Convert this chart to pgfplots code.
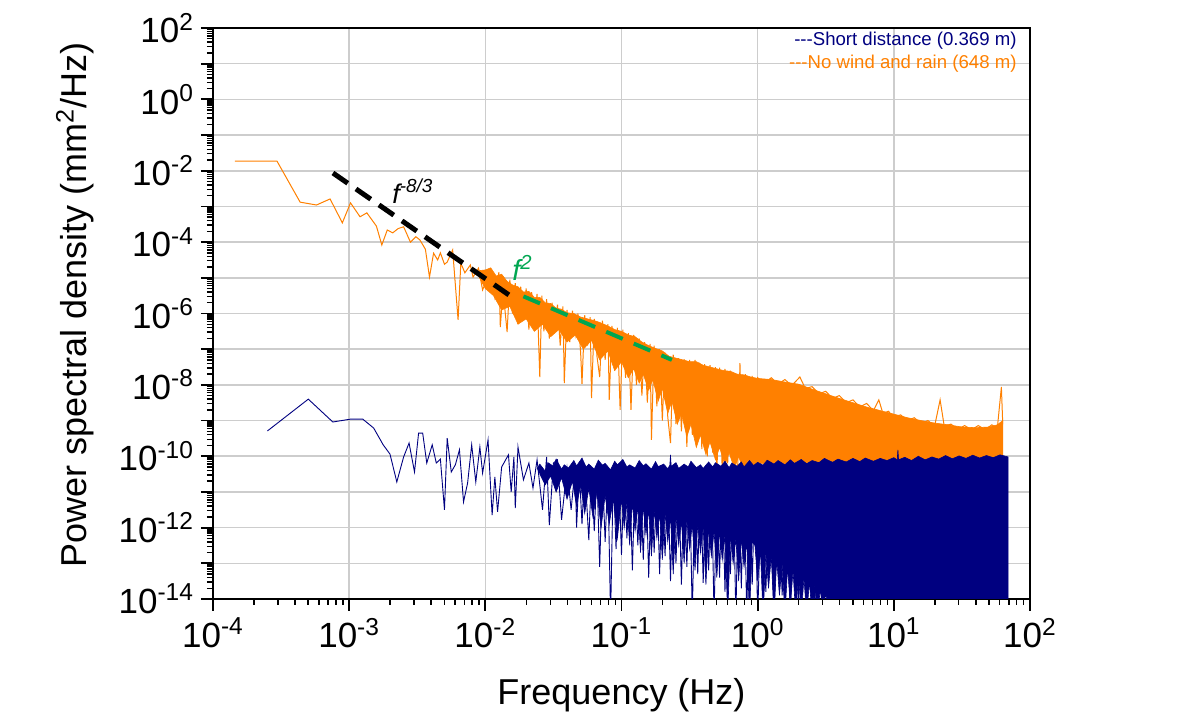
\documentclass[border=0pt]{standalone}
\usepackage{fontspec}
\setmainfont{Liberation Sans}
\usepackage{pgfplots}
\usepackage{pgfplotstable}
\pgfplotsset{compat=1.18}
\definecolor{orangec}{RGB}{255,128,0}
\definecolor{navyc}{RGB}{0,0,128}
\definecolor{greenc}{RGB}{0,166,81}
\definecolor{gridc}{RGB}{205,205,205}

% all values are log10(frequency) and log10(PSD)
\pgfplotstableread{
lx ly
-3.84 -1.73
-3.53 -1.73
-3.36 -2.88
-3.24 -2.96
-3.14 -2.79
-3.05 -3.46
-2.99 -2.90
-2.92 -3.29
-2.87 -3.18
-2.80 -3.55
-2.76 -4.08
-2.72 -3.66
-2.68 -3.74
-2.64 -3.62
-2.60 -3.57
-2.55 -4.00
-2.51 -3.85
-2.48 -3.94
-2.44 -4.20
-2.41 -4.98
-2.38 -4.31
-2.35 -4.50
-2.33 -4.30
-2.30 -4.62
-2.28 -4.56
-2.24 -4.22
-2.20 -6.18
-2.18 -4.59
-2.15 -4.86
-2.11 -4.64
-2.09 -4.98
-2.05 -4.73
-2.02 -5.34
-1.99 -5.06
-1.95 -4.86
-1.93 -5.53
-1.90 -4.84
-1.89 -6.38
-1.87 -5.34
-1.84 -6.52
-1.82 -5.05
-1.80 -6.00
-1.78 -5.15
-1.76 -6.30
-1.74 -5.25
-1.72 -6.10
-1.70 -5.30
-1.68 -6.45
-1.66 -5.40
-1.64 -6.20
-1.62 -5.45
-1.60 -7.78
-1.585 -5.50
-1.57 -6.50
-1.55 -5.60
-1.53 -6.70
-1.51 -5.70
-1.49 -6.40
-1.47 -5.75
-1.45 -6.90
-1.43 -5.80
-1.42 -7.95
-1.40 -5.90
-1.38 -6.80
-1.36 -5.92
-1.34 -6.60
-1.32 -6.00
-1.30 -7.10
-1.29 -7.97
-1.27 -6.05
-1.25 -6.90
-1.23 -6.10
-1.22 -8.37
-1.20 -6.15
-1.18 -7.20
-1.16 -7.78
-1.14 -6.20
-1.12 -7.30
-1.10 -6.30
-1.09 -8.42
-1.07 -6.35
-1.05 -7.60
-1.03 -6.40
-1.01 -8.70
-0.99 -6.45
-0.97 -7.80
-0.95 -6.55
-0.93 -8.70
-0.91 -6.60
-0.89 -8.00
-0.87 -6.70
-0.85 -8.30
-0.83 -6.80
-0.81 -8.50
-0.79 -6.85
-0.78 -9.54
-0.76 -6.90
-0.74 -8.60
-0.72 -7.00
-0.70 -9.00
-0.68 -7.10
-0.66 -8.90
-0.64 -9.63
-0.62 -7.15
-0.60 -9.10
-0.58 -7.25
-0.56 -9.30
-0.54 -7.28
-0.52 -9.74
-0.50 -7.30
-0.48 -9.40
-0.46 -7.30
-0.45 -9.74
-0.43 -7.38
-0.41 -9.80
-0.39 -7.42
-0.37 -10.00
-0.35 -7.45
-0.33 -9.90
-0.31 -7.50
-0.30 -10.58
-0.28 -7.52
-0.26 -10.47
-0.24 -7.55
-0.22 -10.20
-0.20 -7.60
-0.17 -10.30
-0.15 -10.86
-0.13 -7.39
-0.11 -10.30
-0.09 -7.70
-0.06 -10.30
-0.04 -7.75
-0.02 -10.30
0.00 -7.80
0.05 -7.95
0.10 -7.80
0.15 -7.98
0.20 -7.85
0.25 -8.02
0.31 -7.78
0.35 -8.10
0.40 -8.05
0.45 -8.25
0.50 -8.18
0.55 -8.38
0.60 -8.30
0.65 -8.50
0.70 -8.42
0.75 -8.62
0.80 -8.52
0.85 -8.72
0.89 -8.42
0.92 -8.80
0.96 -8.74
1.00 -8.90
1.05 -8.84
1.10 -9.00
1.15 -8.92
1.20 -9.08
1.25 -9.00
1.30 -9.15
1.34 -8.42
1.37 -9.15
1.42 -9.10
1.47 -9.25
1.52 -9.14
1.57 -9.26
1.62 -9.14
1.67 -9.25
1.72 -9.12
1.76 -9.22
1.79 -8.06
1.80 -9.10
}\OrangeLine

\pgfplotstableread{
lx ly
-2.05 -4.80
-2.00 -4.78
-1.96 -4.72
-1.92 -4.95
-1.88 -4.90
-1.84 -5.10
-1.80 -5.20
-1.76 -5.25
-1.72 -5.40
-1.68 -5.38
-1.64 -5.55
-1.60 -5.55
-1.56 -5.70
-1.52 -5.72
-1.48 -5.85
-1.44 -5.88
-1.40 -5.98
-1.35 -6.00
-1.30 -6.10
-1.25 -6.15
-1.20 -6.20
-1.16 -6.25
-1.10 -6.35
-1.05 -6.45
-1.00 -6.50
-0.95 -6.60
-0.90 -6.65
-0.85 -6.80
-0.80 -6.90
-0.75 -6.98
-0.70 -7.05
-0.65 -7.20
-0.60 -7.25
-0.55 -7.30
-0.50 -7.35
-0.45 -7.35
-0.40 -7.45
-0.35 -7.50
-0.30 -7.55
-0.25 -7.60
-0.20 -7.62
-0.15 -7.70
-0.10 -7.72
-0.05 -7.78
0.00 -7.82
0.10 -7.85
0.20 -7.92
0.30 -7.98
0.40 -8.12
0.50 -8.25
0.60 -8.38
0.70 -8.50
0.80 -8.62
0.90 -8.72
1.00 -8.82
1.10 -8.92
1.20 -9.00
1.30 -9.07
1.40 -9.12
1.50 -9.18
1.60 -9.20
1.70 -9.18
1.76 -9.12
1.80 -9.00
1.80 -10.40
1.00 -10.40
0.50 -10.35
0.20 -10.25
0.00 -10.19
-0.03 -10.40
-0.07 -10.10
-0.10 -10.45
-0.14 -10.00
-0.17 -10.35
-0.21 -9.90
-0.24 -10.25
-0.28 -9.75
-0.31 -10.10
-0.35 -9.60
-0.38 -9.95
-0.42 -9.40
-0.45 -9.75
-0.49 -9.10
-0.52 -9.45
-0.56 -8.80
-0.59 -9.10
-0.63 -8.45
-0.66 -8.80
-0.70 -8.10
-0.73 -8.45
-0.77 -7.85
-0.80 -8.15
-0.84 -7.70
-0.87 -7.95
-0.91 -7.55
-0.95 -7.80
-1.00 -7.35
-1.05 -7.60
-1.10 -7.05
-1.16 -7.30
-1.22 -6.75
-1.28 -7.00
-1.34 -6.60
-1.40 -6.80
-1.46 -6.45
-1.52 -6.65
-1.58 -6.30
-1.64 -6.50
-1.70 -6.15
-1.76 -6.30
-1.82 -5.80
-1.88 -5.90
-1.94 -5.50
-2.00 -5.30
-2.05 -4.95
}\OrangeBand

\pgfplotstableread{
lx ly
-3.60 -9.29
-3.30 -8.40
-3.12 -9.04
-2.99 -8.96
-2.90 -8.96
-2.82 -9.21
-2.75 -9.68
-2.70 -9.94
-2.65 -10.72
-2.60 -10.02
-2.56 -9.63
-2.52 -10.44
-2.49 -9.35
-2.46 -9.35
-2.43 -10.19
-2.39 -9.68
-2.36 -10.19
-2.33 -10.08
-2.30 -11.50
-2.28 -9.49
-2.25 -10.44
-2.22 -10.24
-2.19 -9.82
-2.16 -11.28
-2.13 -10.75
-2.10 -9.68
-2.07 -10.72
-2.04 -9.74
-2.02 -10.47
-1.98 -9.54
-1.95 -11.65
-1.93 -10.58
-1.91 -11.56
-1.88 -10.30
-1.83 -9.96
-1.81 -11.00
-1.79 -10.02
-1.78 -11.45
-1.76 -9.74
-1.72 -10.66
-1.68 -10.19
-1.65 -10.89
-1.62 -10.10
-1.58 -11.50
-1.55 -10.02
-1.53 -11.93
-1.50 -10.19
-1.47 -10.10
-1.44 -11.78
-1.40 -10.33
-1.37 -11.50
-1.34 -10.30
-1.33 -12.00
-1.31 -10.40
-1.29 -11.90
-1.27 -10.30
-1.24 -12.35
-1.22 -10.40
-1.20 -12.10
-1.18 -10.50
-1.16 -13.10
-1.14 -10.40
-1.12 -12.40
-1.10 -10.50
-1.08 -14.50
-1.06 -10.40
-1.04 -12.60
-1.02 -10.50
-1.00 -12.76
-0.98 -10.40
-0.96 -12.30
-0.94 -10.50
-0.92 -13.20
-0.90 -10.50
-0.88 -12.50
-0.86 -10.60
-0.84 -12.90
-0.82 -10.50
-0.80 -13.40
-0.78 -10.60
-0.76 -12.70
-0.74 -10.50
-0.72 -13.30
-0.70 -10.60
-0.68 -12.80
-0.66 -10.50
-0.64 -13.50
-0.62 -10.60
-0.60 -13.00
-0.58 -10.60
-0.56 -13.60
-0.54 -10.50
-0.52 -13.10
-0.50 -10.60
-0.48 -14.50
-0.46 -10.60
-0.44 -13.30
-0.42 -10.50
-0.40 -13.55
-0.38 -10.60
-0.36 -13.20
-0.34 -10.60
-0.32 -14.50
-0.30 -10.60
-0.28 -13.40
-0.26 -10.60
-0.24 -13.80
-0.22 -10.60
-0.20 -13.30
-0.18 -10.60
-0.16 -14.50
-0.14 -10.60
-0.12 -13.70
-0.10 -10.60
-0.08 -14.50
-0.06 -10.60
-0.04 -13.60
-0.02 -10.60
0.00 -14.50
0.03 -10.60
0.06 -13.80
0.09 -10.60
0.12 -14.50
0.15 -10.60
0.18 -13.90
0.21 -10.60
0.24 -14.50
0.27 -10.60
0.30 -14.00
0.33 -10.60
0.36 -14.50
0.39 -10.60
0.42 -14.20
0.45 -10.60
0.48 -14.50
0.51 -10.60
0.54 -14.50
0.57 -10.60
0.60 -14.50
0.64 -10.60
0.68 -14.50
0.72 -10.60
0.76 -14.50
0.80 -10.60
0.84 -14.50
0.88 -10.60
0.92 -14.50
}\NavyLine

\pgfplotstableread{
lx ly
-1.62 -10.35
-1.60 -10.22
-1.56 -10.42
-1.54 -10.18
-1.50 -10.28
-1.48 -10.08
-1.44 -10.36
-1.42 -10.24
-1.39 -10.33
-1.35 -10.12
-1.33 -10.27
-1.29 -10.05
-1.26 -10.30
-1.24 -10.22
-1.20 -10.36
-1.17 -10.11
-1.14 -10.25
-1.12 -10.20
-1.08 -10.38
-1.05 -10.14
-1.03 -10.24
-0.99 -10.09
-0.96 -10.30
-0.94 -10.24
-0.90 -10.33
-0.87 -10.12
-0.84 -10.27
-0.82 -10.21
-0.78 -10.36
-0.75 -10.15
-0.73 -10.29
-0.69 -10.22
-0.66 -10.35
-0.645 -10.25
-0.64 -9.96
-0.635 -10.28
-0.60 -10.18
-0.58 -10.34
-0.54 -10.22
-0.51 -10.30
-0.49 -10.14
-0.45 -10.32
-0.42 -10.24
-0.40 -10.34
-0.36 -10.16
-0.33 -10.30
-0.31 -10.18
-0.27 -10.28
-0.24 -10.14
-0.21 -10.32
-0.19 -10.19
-0.15 -10.28
-0.12 -10.16
-0.10 -10.30
-0.06 -10.12
-0.03 -10.26
0.00 -10.17
0.04 -10.25
0.07 -10.11
0.12 -10.22
0.15 -10.12
0.20 -10.24
0.24 -10.10
0.27 -10.20
0.32 -10.09
0.36 -10.21
0.40 -10.12
0.45 -10.18
0.49 -10.06
0.55 -10.17
0.59 -10.08
0.65 -10.16
0.70 -10.06
0.75 -10.15
0.79 -10.05
0.85 -10.14
0.90 -10.06
0.95 -10.12
1.00 -10.04
1.025 -10.10
1.03 -9.82
1.035 -10.10
1.08 -10.03
1.13 -10.12
1.18 -10.00
1.23 -10.10
1.28 -10.02
1.33 -10.08
1.38 -9.98
1.43 -10.07
1.48 -9.99
1.53 -10.06
1.58 -9.97
1.63 -10.05
1.68 -9.98
1.73 -10.04
1.78 -9.96
1.84 -10.02
1.84 -14.50
0.60 -14.50
0.58 -14.00
0.56 -14.50
0.54 -13.90
0.52 -14.50
0.50 -13.80
0.48 -14.50
0.46 -13.70
0.44 -14.50
0.42 -13.60
0.40 -14.50
0.38 -13.50
0.36 -14.50
0.34 -13.40
0.32 -14.50
0.30 -13.30
0.28 -14.50
0.26 -13.20
0.24 -14.20
0.22 -13.10
0.20 -14.50
0.18 -13.00
0.16 -13.90
0.14 -12.90
0.12 -14.50
0.10 -12.80
0.08 -13.70
0.06 -12.70
0.04 -14.50
0.02 -12.60
0.00 -13.50
-0.02 -12.50
-0.04 -12.40
-0.06 -14.50
-0.08 -12.40
-0.10 -13.10
-0.12 -12.30
-0.14 -13.50
-0.16 -12.30
-0.18 -13.00
-0.20 -12.20
-0.22 -14.50
-0.24 -12.20
-0.26 -12.90
-0.28 -12.10
-0.30 -13.40
-0.32 -12.10
-0.34 -12.80
-0.36 -12.00
-0.38 -13.60
-0.40 -12.00
-0.42 -12.70
-0.44 -11.90
-0.46 -13.20
-0.48 -11.90
-0.50 -12.60
-0.52 -11.80
-0.54 -13.00
-0.56 -11.80
-0.58 -12.50
-0.60 -11.70
-0.62 -13.30
-0.64 -11.70
-0.66 -12.40
-0.68 -11.60
-0.70 -12.90
-0.72 -11.60
-0.74 -12.30
-0.76 -11.50
-0.78 -12.80
-0.80 -11.50
-0.82 -12.20
-0.84 -11.40
-0.86 -12.70
-0.88 -11.40
-0.90 -12.10
-0.92 -11.30
-0.94 -12.50
-0.96 -11.30
-0.98 -12.00
-1.00 -11.20
-1.03 -12.30
-1.06 -11.20
-1.09 -11.90
-1.12 -11.10
-1.15 -12.00
-1.18 -11.00
-1.21 -11.70
-1.24 -10.90
-1.27 -11.60
-1.30 -10.80
-1.33 -11.40
-1.36 -10.70
-1.40 -11.20
-1.44 -10.60
-1.48 -11.00
-1.52 -10.55
-1.56 -10.80
-1.60 -10.50
}\NavyBand

\pgfplotstableread{
lx ly
-3.119 -2.063
-1.805 -5.537
}\SlopeA

\pgfplotstableread{
lx ly
-1.72 -5.52
-0.63 -7.30
}\SlopeB

\begin{document}
\begin{tikzpicture}
\path[use as bounding box] (-106.5pt,-64pt) rectangle (491.5pt,299.5pt);
\begin{axis}[
  at={(0,0)}, anchor=south west,
  scale only axis, width=408.5pt, height=285.5pt,
  xmode=log, ymode=log,
  xmin=1e-4, xmax=1e2, ymin=1e-14, ymax=1e2,
  xtick={1e-4,1e-3,1e-2,1e-1,1,10,100},
  xticklabels={10\textsuperscript{-4},10\textsuperscript{-3},10\textsuperscript{-2},10\textsuperscript{-1},10\textsuperscript{0},10\textsuperscript{1},10\textsuperscript{2}},
  ytick={1e-14,1e-13,1e-12,1e-11,1e-10,1e-9,1e-8,1e-7,1e-6,1e-5,1e-4,1e-3,1e-2,1e-1,1,10,100},
  yticklabels={10\textsuperscript{-14},{},10\textsuperscript{-12},{},10\textsuperscript{-10},{},10\textsuperscript{-8},{},10\textsuperscript{-6},{},10\textsuperscript{-4},{},10\textsuperscript{-2},{},10\textsuperscript{0},{},10\textsuperscript{2}},
  tick align=outside, xtick pos=left, ytick pos=left,
  major tick length=6pt, minor tick length=3pt,
  major tick style={black, line width=0.9pt},
  minor tick style={black, line width=0.7pt},
  axis line style={black, line width=1.2pt},
  xmajorgrids, ymajorgrids,
  major grid style={gridc, line width=0.8pt},
  tick label style={font=\fontsize{17.5}{19}\selectfont},
  label style={font=\fontsize{18}{20}\selectfont},
  xlabel={Frequency (Hz)},
  ylabel={Power spectral density (mm\textsuperscript{2}/Hz)},
  xlabel style={at={(axis description cs:0.5,-0.168)}, anchor=center},
  ylabel style={at={(axis description cs:-0.169,0.515)}, anchor=center},
]
\addplot[fill=orangec, draw=orangec, line width=0.3pt] table[x expr={10^(\thisrow{lx})}, y expr={10^(\thisrow{ly})}] {\OrangeBand};
\addplot[orangec, line width=0.5pt] table[x expr={10^(\thisrow{lx})}, y expr={10^(\thisrow{ly})}] {\OrangeLine};
\addplot[fill=navyc, draw=navyc, line width=0.3pt] table[x expr={10^(\thisrow{lx})}, y expr={10^(\thisrow{ly})}] {\NavyBand};
\addplot[navyc, line width=0.45pt] table[x expr={10^(\thisrow{lx})}, y expr={10^(\thisrow{ly})}] {\NavyLine};
\addplot[black, line width=2.5pt, dash pattern=on 9pt off 5pt] table[x expr={10^(\thisrow{lx})}, y expr={10^(\thisrow{ly})}] {\SlopeA};
\addplot[greenc, line width=2pt, dash pattern=on 9pt off 6pt] table[x expr={10^(\thisrow{lx})}, y expr={10^(\thisrow{ly})}] {\SlopeB};
\node[anchor=west, inner sep=0pt, font=\fontsize{13.5}{15}\selectfont\itshape] at (axis cs:2.06e-3,2.71e-3) {f\textsuperscript{-8/3}};
\node[anchor=west, inner sep=0pt, text=greenc, font=\fontsize{14.5}{16}\selectfont\itshape] at (axis cs:1.57e-2,1.9e-5) {f\textsuperscript{2}};
\node[anchor=east, inner sep=0pt, text=navyc, font=\fontsize{9.3}{11}\selectfont] at (rel axis cs:0.984,0.977) {-{}-{}-Short distance (0.369 m)};
\node[anchor=east, inner sep=0pt, text=orangec, font=\fontsize{9.3}{11}\selectfont] at (rel axis cs:0.984,0.937) {-{}-{}-No wind and rain (648 m)};
\end{axis}
\end{tikzpicture}
\end{document}
